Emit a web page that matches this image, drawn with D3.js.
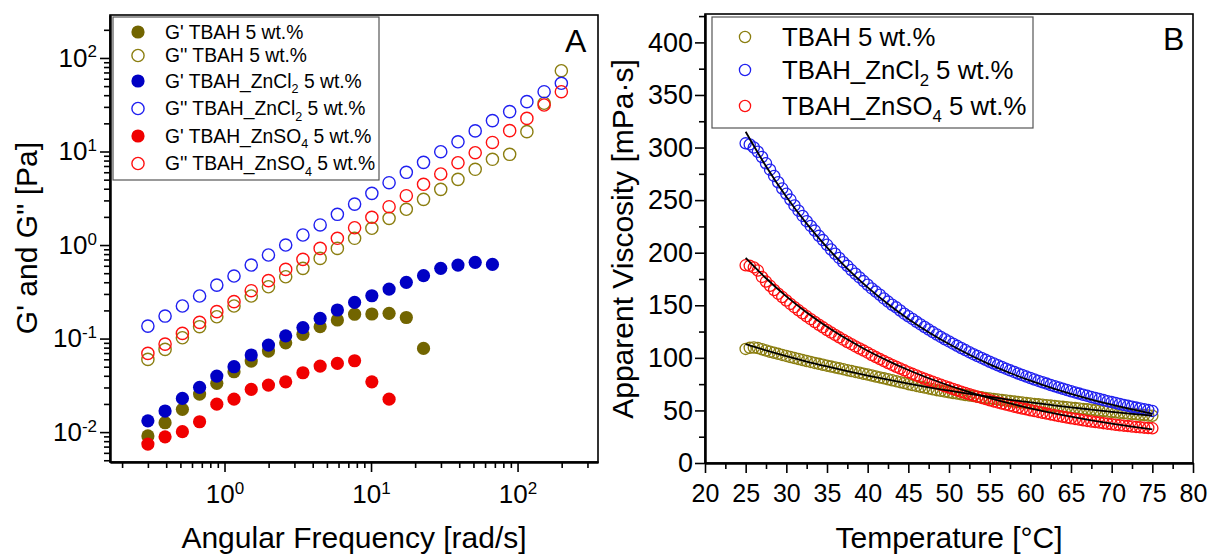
<!DOCTYPE html>
<html>
<head>
<meta charset="utf-8">
<script src="https://d3js.org/d3.v7.min.js"></script>
<style>
  body { margin: 0; background: #fff; }
  text { font-family: "Liberation Sans", Arial, sans-serif; fill: #000; }
</style>
</head>
<body>
<div id="chart"></div>
<script>
var W = 1208, H = 555;
var font = '"Liberation Sans", Arial, sans-serif';

// ---------- panel A data (angular frequency sweep) ----------
var freq = [0.300, 0.393, 0.516, 0.676, 0.886, 1.161, 1.522, 1.995, 2.616, 3.429, 4.495, 5.893, 7.725,
            10.13, 13.28, 17.41, 22.82, 29.91, 39.21, 51.40, 67.39, 88.34, 115.8, 151.8, 199.0];
var gp_tbah = [0.0091, 0.0126, 0.0175, 0.0255, 0.0332, 0.0442, 0.0574, 0.0735, 0.090, 0.111, 0.134, 0.158,
               0.182, 0.183, 0.186, 0.168, 0.0785];
var gpp_tbah = [0.0599, 0.0766, 0.102, 0.134, 0.171, 0.223, 0.285, 0.358, 0.458, 0.563, 0.72, 0.92, 1.18,
                1.51, 1.93, 2.41, 3.08, 3.94, 5.04, 6.45, 8.25, 9.33, 16.3, 32.8, 73.1];
var gp_zncl = [0.0132, 0.0168, 0.0229, 0.0301, 0.0397, 0.050, 0.0667, 0.0852, 0.107, 0.131, 0.164, 0.202,
               0.244, 0.287, 0.338, 0.399, 0.470, 0.563, 0.611, 0.653, 0.621];
var gpp_zncl = [0.136, 0.174, 0.223, 0.285, 0.373, 0.466, 0.611, 0.782, 1.0, 1.28, 1.64, 2.13, 2.74, 3.57,
                4.64, 5.99, 7.66, 9.95, 12.7, 16.6, 21.4, 26.7, 34.1, 43.6, 53.6];
var gp_znso = [0.00744, 0.0089, 0.0101, 0.0129, 0.0199, 0.0225, 0.0286, 0.0318, 0.0345, 0.0431, 0.0508,
               0.0542, 0.0579, 0.0345, 0.0225];
var gpp_znso = [0.0694, 0.0873, 0.1136, 0.149, 0.194, 0.248, 0.325, 0.416, 0.549, 0.703, 0.921, 1.18, 1.53,
                1.98, 2.57, 3.37, 4.46, 5.75, 7.59, 9.71, 12.5, 16.7, 22.6, 31.4, 43.6];
var legendA = [["G' TBAH 5 wt.%"], ["G'' TBAH 5 wt.%"], ["G' TBAH_ZnCl", "2", " 5 wt.%"],
               ["G'' TBAH_ZnCl", "2", " 5 wt.%"], ["G' TBAH_ZnSO", "4", " 5 wt.%"], ["G'' TBAH_ZnSO", "4", " 5 wt.%"]];

// ---------- panel B data (viscosity vs temperature) ----------
var temp = [25, 25.5, 26, 26.5, 27, 27.5, 28, 28.5, 29, 29.5, 30, 30.5, 31, 31.5, 32, 32.5, 33, 33.5, 34, 34.5,
            35, 35.5, 36, 36.5, 37, 37.5, 38, 38.5, 39, 39.5, 40, 40.5, 41, 41.5, 42, 42.5, 43, 43.5, 44, 44.5,
            45, 45.5, 46, 46.5, 47, 47.5, 48, 48.5, 49, 49.5, 50, 50.5, 51, 51.5, 52, 52.5, 53, 53.5, 54, 54.5,
            55, 55.5, 56, 56.5, 57, 57.5, 58, 58.5, 59, 59.5, 60, 60.5, 61, 61.5, 62, 62.5, 63, 63.5, 64, 64.5,
            65, 65.5, 66, 66.5, 67, 67.5, 68, 68.5, 69, 69.5, 70, 70.5, 71, 71.5, 72, 72.5, 73, 73.5, 74, 74.5, 75];
var visc_tbah = [108.5, 109.5, 109.8, 109.3, 108.2, 107, 105.8, 104.8, 103.8, 102.8, 101.8, 100.8, 99.8, 98.9,
                 97.9, 97, 96.1, 95.2, 94.3, 93.4, 92.6, 91.7, 90.9, 90, 89.2, 88.3, 87.5, 86.6, 85.8, 84.9,
                 84.1, 83.2, 82.3, 81.4, 80.5, 79.6, 78.7, 77.8, 76.9, 76, 75, 74.1, 73.3, 72.5, 71.7, 70.9,
                 70.1, 69.3, 68.6, 67.9, 67.2, 66.6, 66, 65.3, 64.7, 64.1, 63.6, 63, 62.5, 61.9, 61.4, 60.9,
                 60.4, 59.9, 59.4, 58.9, 58.4, 58, 57.5, 57.1, 56.6, 56.2, 55.8, 55.4, 55, 54.6, 54.2, 53.8,
                 53.4, 53, 52.6, 52.2, 51.8, 51.4, 51, 50.6, 50.2, 49.8, 49.4, 49, 48.6, 48.2, 47.8, 47.4, 47,
                 46.6, 46.3, 45.9, 45.6, 45.2, 44.9];
var visc_zncl = [304, 303, 300, 296, 291, 285, 279, 273, 267, 261, 256, 250.5, 245, 240, 235, 230, 225.5, 221,
                 216, 212, 207.5, 203, 199, 195, 191, 187.5, 183.5, 180, 176.5, 173, 169.5, 166, 163, 160, 156.5,
                 153.5, 150.5, 148, 145, 142, 139.5, 137, 134.3, 131.8, 129.3, 126.9, 124.5, 122.2, 119.9, 117.7,
                 115.6, 113.5, 111.4, 109.4, 107.4, 105.4, 103.5, 101.7, 99.9, 98.1, 96.3, 94.6, 93, 91.3, 89.7,
                 88.1, 86.6, 85.1, 83.7, 82.2, 80.8, 79.4, 78.1, 76.8, 75.5, 74.2, 73, 71.8, 70.6, 69.4, 68.2,
                 67.1, 66, 64.9, 63.9, 62.8, 61.8, 60.8, 59.8, 58.8, 57.9, 57, 56.1, 55.2, 54.4, 53.5, 52.7,
                 51.9, 51.1, 50.3, 49.5];
var visc_znso = [188, 187.5, 186, 183, 177, 172.5, 168.5, 164.5, 161, 157.8, 154.5, 151.3, 148.2, 145.2, 142.3,
                 139.5, 136.8, 134.1, 131.5, 129, 126.5, 124.1, 121.8, 119.5, 117.3, 115.1, 113, 110.9, 108.9,
                 106.9, 104.9, 102.7, 100.7, 98.8, 96.9, 95.1, 93.3, 91.5, 89.8, 88.1, 86.4, 84.8, 83.2, 81.6,
                 80.1, 78.6, 77.2, 75.8, 74.4, 73, 71.7, 70.4, 69.1, 67.8, 66.6, 65.4, 64.2, 63, 61.9, 60.8,
                 59.7, 58.6, 57.6, 56.6, 55.6, 54.6, 53.6, 52.7, 51.8, 51, 50.2, 49.4, 48.6, 47.8, 47, 46.2,
                 45.5, 44.7, 44, 43.2, 42.5, 41.9, 41.3, 40.6, 40, 39.4, 38.9, 38.4, 37.9, 37.4, 36.9, 36.4,
                 35.9, 35.5, 35.1, 34.7, 34.3, 33.9, 33.6, 33.3, 33];
var fitT = [25, 27.5, 30, 32.5, 35, 37.5, 40, 42.5, 45, 47.5, 50, 52.5, 55, 57.5, 60, 62.5, 65, 67.5, 70, 72.5, 75];
var fit_tbah = [113, 107.1, 101.6, 96.5, 91.8, 87.3, 83.1, 79.2, 75.5, 72, 68.8, 65.7, 62.9, 60.1, 57.6, 55.2,
                52.9, 50.8, 48.7, 46.8, 45];
var fit_zncl = [315, 282.2, 253.2, 227.6, 205, 184.9, 167, 151.2, 137, 124.4, 113.1, 102.9, 93.8, 85.6, 78.3,
                71.7, 65.7, 60.3, 55.4, 51, 47];
var fit_znso = [195, 175.7, 158.5, 143.2, 129.6, 117.6, 106.7, 97.1, 88.4, 80.6, 73.7, 67.4, 61.7, 56.6, 52,
                47.8, 44, 40.5, 37.4, 34.6, 32];
var legendB = [["TBAH 5 wt.%"], ["TBAH_ZnCl", "2", " 5 wt.%"], ["TBAH_ZnSO", "4", " 5 wt.%"]];

var olive = '#726500', oliveL = '#8b7e10';
var blue = '#0000c4', blueL = '#2020f0';
var red = '#f00000', redL = '#ff1010';

var svg = d3.select('#chart').append('svg')
  .attr('width', W).attr('height', H)
  .style('background', '#fff');

// writes a label made of [main, subscript, rest]
function richText(t, parts, fs) {
  t.append('tspan').text(parts[0]);
  if (parts.length > 1) {
    t.append('tspan').attr('font-size', fs * 0.65).attr('dy', fs * 0.28).text(parts[1]);
    t.append('tspan').attr('dy', -fs * 0.28).text(parts[2]);
  }
}

function styleAxis(g, fs) {
  g.attr('font-family', font).attr('font-size', fs);
  g.select('.domain').attr('stroke-width', 2);
  g.selectAll('.tick line').attr('stroke-width', 1.6);
  g.selectAll('.tick text').attr('fill', '#000');
}

// ================= panel A =================
var xA = d3.scaleLog().domain([0.1654, 354]).range([110, 598]);
var yA = d3.scaleLog().domain([0.00479, 288]).range([462, 15]);

function isPow10(d) { var l = Math.log10(d); return Math.abs(l - Math.round(l)) < 1e-6; }

function logAxis(axisFn, scale, tx, ty, pad) {
  var all = scale.ticks();
  var maj = all.filter(isPow10);
  var min = all.filter(function (d) { return !isPow10(d); });
  var g1 = svg.append('g').attr('transform', 'translate(' + tx + ',' + ty + ')')
    .call(axisFn(scale).tickValues(min).tickSize(6).tickSizeOuter(0).tickFormat(''));
  styleAxis(g1, 26);
  var g2 = svg.append('g').attr('transform', 'translate(' + tx + ',' + ty + ')')
    .call(axisFn(scale).tickValues(maj).tickSize(10).tickSizeOuter(0).tickPadding(pad));
  styleAxis(g2, 26);
  g2.selectAll('.tick text').each(function (d) {
    var t = d3.select(this).text('');
    t.append('tspan').text('10');
    t.append('tspan').attr('font-size', 17).attr('dy', '-0.55em').text(Math.round(Math.log10(d)));
  });
}

svg.append('rect').attr('x', 110).attr('y', 15).attr('width', 488).attr('height', 447)
  .attr('fill', 'none').attr('stroke', '#000').attr('stroke-width', 1.6);
logAxis(d3.axisBottom, xA, 0, 462, 13);
logAxis(d3.axisLeft, yA, 110, 0, 3);

var seriesA = [
  { v: gp_tbah, c: olive, fill: true },
  { v: gpp_tbah, c: oliveL, fill: false },
  { v: gp_zncl, c: blue, fill: true },
  { v: gpp_zncl, c: blueL, fill: false },
  { v: gp_znso, c: red, fill: true },
  { v: gpp_znso, c: redL, fill: false }
];

seriesA.forEach(function (s) {
  svg.append('g').selectAll('circle')
    .data(s.v)
    .enter().append('circle')
    .attr('cx', function (d, i) { return xA(freq[i]); })
    .attr('cy', function (d) { return yA(d); })
    .attr('r', s.fill ? 6.6 : 6.1)
    .attr('fill', s.fill ? s.c : 'none')
    .attr('stroke', s.c)
    .attr('stroke-width', s.fill ? 0 : 1.4);
});

// legend A
svg.append('rect').attr('x', 113).attr('y', 17).attr('width', 266).attr('height', 163)
  .attr('fill', '#fff').attr('stroke', '#555').attr('stroke-width', 1.2);
var rowA = [32, 55.5, 81, 108.5, 136, 163.5];
seriesA.forEach(function (s, i) {
  svg.append('circle').attr('cx', 138).attr('cy', rowA[i])
    .attr('r', s.fill ? 6.6 : 6.1)
    .attr('fill', s.fill ? s.c : 'none').attr('stroke', s.c)
    .attr('stroke-width', s.fill ? 0 : 1.4);
  var t = svg.append('text').attr('x', 165).attr('y', rowA[i] + 6.8).attr('font-size', 19.3);
  richText(t, legendA[i], 19.3);
});

svg.append('text').attr('x', 565).attr('y', 52).attr('font-size', 32).text('A');
svg.append('text').attr('x', 354).attr('y', 548).attr('font-size', 30)
  .attr('text-anchor', 'middle').text('Angular Frequency [rad/s]');
svg.append('text').attr('transform', 'translate(37,238) rotate(-90)').attr('font-size', 30)
  .attr('text-anchor', 'middle').text("G' and G'' [Pa]");

// ================= panel B =================
var xB = d3.scaleLinear().domain([20, 80]).range([705, 1193]);
var yB = d3.scaleLinear().domain([0, 427]).range([463, 14]);

svg.append('rect').attr('x', 705).attr('y', 14).attr('width', 488).attr('height', 449)
  .attr('fill', 'none').attr('stroke', '#000').attr('stroke-width', 1.6);

var gxm = svg.append('g').attr('transform', 'translate(0,463)')
  .call(d3.axisBottom(xB).tickValues(d3.range(22.5, 80, 5)).tickSize(6).tickSizeOuter(0).tickFormat(''));
styleAxis(gxm, 25);
var gx = svg.append('g').attr('transform', 'translate(0,463)')
  .call(d3.axisBottom(xB).tickValues(d3.range(20, 81, 5)).tickSize(10).tickSizeOuter(0).tickPadding(11));
styleAxis(gx, 25);
var gym = svg.append('g').attr('transform', 'translate(705,0)')
  .call(d3.axisLeft(yB).tickValues(d3.range(25, 426, 50)).tickSize(6).tickSizeOuter(0).tickFormat(''));
styleAxis(gym, 27);
var gy = svg.append('g').attr('transform', 'translate(705,0)')
  .call(d3.axisLeft(yB).tickValues(d3.range(0, 401, 50)).tickSize(10).tickSizeOuter(0).tickPadding(2));
styleAxis(gy, 27);

var seriesB = [
  { v: visc_tbah, f: fit_tbah, c: oliveL },
  { v: visc_zncl, f: fit_zncl, c: blueL },
  { v: visc_znso, f: fit_znso, c: redL }
];
seriesB.forEach(function (s) {
  svg.append('g').selectAll('circle')
    .data(s.v)
    .enter().append('circle')
    .attr('cx', function (d, i) { return xB(temp[i]); })
    .attr('cy', function (d) { return yB(d); })
    .attr('r', 5.6)
    .attr('fill', 'none')
    .attr('stroke', s.c)
    .attr('stroke-width', 1.3);
});
var fitLine = d3.line()
  .x(function (d, i) { return xB(fitT[i]); })
  .y(function (d) { return yB(d); })
  .curve(d3.curveMonotoneX);
seriesB.forEach(function (s) {
  svg.append('path').attr('d', fitLine(s.f))
    .attr('fill', 'none').attr('stroke', '#000').attr('stroke-width', 1.8);
});

// legend B
svg.append('rect').attr('x', 712).attr('y', 17).attr('width', 321).attr('height', 111)
  .attr('fill', '#fff').attr('stroke', '#555').attr('stroke-width', 1.2);
var rowB = [37, 70, 106];
seriesB.forEach(function (s, i) {
  svg.append('circle').attr('cx', 745).attr('cy', rowB[i]).attr('r', 5.6)
    .attr('fill', 'none').attr('stroke', s.c).attr('stroke-width', 1.3);
  var t = svg.append('text').attr('x', 782).attr('y', rowB[i] + 9).attr('font-size', 25.8);
  richText(t, legendB[i], 25.8);
});

svg.append('text').attr('x', 1163).attr('y', 50).attr('font-size', 32).text('B');
svg.append('text').attr('x', 949).attr('y', 548).attr('font-size', 30)
  .attr('text-anchor', 'middle').text('Temperature [°C]');
svg.append('text').attr('transform', 'translate(633,239) rotate(-90)').attr('font-size', 30)
  .attr('text-anchor', 'middle').text('Apparent Viscosity [mPa·s]');
</script>
</body>
</html>
